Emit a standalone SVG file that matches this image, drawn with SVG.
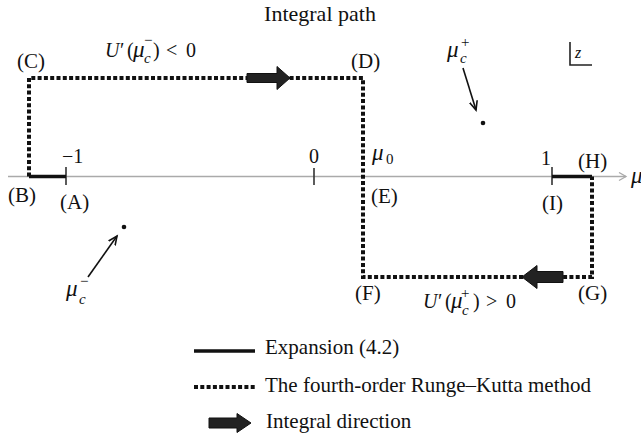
<svg xmlns="http://www.w3.org/2000/svg" width="641" height="436" viewBox="0 0 641 436">
<style>
text{font-family:"Liberation Serif","Times New Roman",serif;font-size:21px;fill:#111}
.m{font-size:20px}
.mu{font-size:23px;font-style:italic}
.it{font-style:italic}
.sm{font-size:15px}
.solid{stroke:#111;stroke-width:3.5;fill:none}
.dot{stroke:#111;stroke-width:4;stroke-dasharray:4 2.3;fill:none}
.axis{stroke:#aaa;stroke-width:1.5;fill:none}
.tick{stroke:#333;stroke-width:1.6}
.bigarrow{fill:#222;stroke:#111;stroke-width:1}
</style>
<defs>
<marker id="ah" markerWidth="12" markerHeight="12" refX="9" refY="5" orient="auto" markerUnits="userSpaceOnUse">
<path d="M0,1 L9,5 L0,9" fill="none" stroke="#111" stroke-width="1.6"/>
</marker>
<marker id="axh" markerWidth="10" markerHeight="10" refX="8" refY="5" orient="auto" markerUnits="userSpaceOnUse">
<path d="M1,1 L8,5 L1,9" fill="none" stroke="#aaa" stroke-width="1.3"/>
</marker>
</defs>
<text x="320" y="21" text-anchor="middle" style="font-size:22px">Integral path</text>
<g id="axis">
<line class="axis" x1="8" y1="176.5" x2="626" y2="176.5" marker-end="url(#axh)"/>
<text x="631" y="183" class="mu">μ</text>
<line class="tick" x1="66" y1="167" x2="66" y2="185"/>
<line class="tick" x1="314" y1="168" x2="314" y2="185"/>
<line class="tick" x1="552" y1="167" x2="552" y2="185"/>
<text x="62" y="163" class="m">−1</text>
<text x="309" y="163" class="m">0</text>
<text x="541" y="165" class="m">1</text>
</g>
<g id="connectors">
<path class="solid" d="M66,176.5 H29"/>
<path class="dot" d="M29,176.5 V78 H363 V277 H592 V176.5"/>
<path class="solid" d="M592,176.5 H552"/>
<path class="bigarrow" d="M247,73.5 H277 V66.5 L290,78 L277,89.5 V82.5 H247 Z"/>
<path class="bigarrow" d="M563,271.5 H537 V265.5 L522,277 L537,288.5 V282.5 H563 Z"/>
<line x1="88" y1="277" x2="117" y2="236" stroke="#111" stroke-width="1.6" marker-end="url(#ah)"/>
<line x1="463" y1="68" x2="476" y2="110" stroke="#111" stroke-width="1.6" marker-end="url(#ah)"/>
</g>
<g id="points">
<circle cx="124" cy="227" r="2.3" fill="#111"/>
<circle cx="483" cy="123" r="2.3" fill="#111"/>
</g>
<g id="labels">
<text x="17" y="68">(C)</text>
<text x="351" y="68">(D)</text>
<text x="8" y="202">(B)</text>
<text x="60" y="209">(A)</text>
<text x="371" y="203">(E)</text>
<text x="355" y="300">(F)</text>
<text x="578" y="300">(G)</text>
<text x="578" y="168">(H)</text>
<text x="542" y="210">(I)</text>
<text x="372" y="160" class="mu">μ</text><text x="386" y="164" class="sm">0</text>
<g id="formula-minus">
<text x="105" y="57" class="m it">U</text>
<text x="120" y="57" class="m">′</text>
<text x="127" y="57" class="m">(</text>
<text x="133" y="57" class="mu">μ</text>
<text x="144" y="63" class="sm it">c</text>
<text x="144" y="45" class="sm">−</text>
<text x="153" y="57" class="m">)</text>
<text x="166" y="57" class="m">&lt;</text>
<text x="186" y="57" class="m">0</text>
</g>
<g id="formula-plus">
<text x="423" y="308" class="m it">U</text>
<text x="438" y="308" class="m">′</text>
<text x="445" y="308" class="m">(</text>
<text x="451" y="308" class="mu">μ</text>
<text x="462" y="315" class="sm it">c</text>
<text x="461" y="298" class="sm">+</text>
<text x="473" y="308" class="m">)</text>
<text x="486" y="308" class="m">&gt;</text>
<text x="506" y="308" class="m">0</text>
</g>
<text x="447" y="57" class="mu">μ</text><text x="460" y="63" class="sm it">c</text><text x="461" y="47" class="sm">+</text>
<text x="66" y="296" class="mu">μ</text><text x="79" y="304" class="sm it">c</text><text x="80" y="286" class="sm">−</text>
</g>
<g id="zlabel">
<path d="M570,42 V65 H592" fill="none" stroke="#222" stroke-width="1.6"/>
<text x="575" y="58" class="it" style="font-size:16px">z</text>
</g>
<g id="legend">
<line class="solid" x1="194" y1="351" x2="255" y2="351"/>
<text x="265" y="354">Expansion (4.2)</text>
<line class="dot" x1="194" y1="387" x2="255" y2="387"/>
<text x="265" y="392">The fourth-order Runge–Kutta method</text>
<path class="bigarrow" d="M209,418 H237 V413.5 L251,423 L237,432.5 V428 H209 Z"/>
<text x="266" y="428">Integral direction</text>
</g>
</svg>
